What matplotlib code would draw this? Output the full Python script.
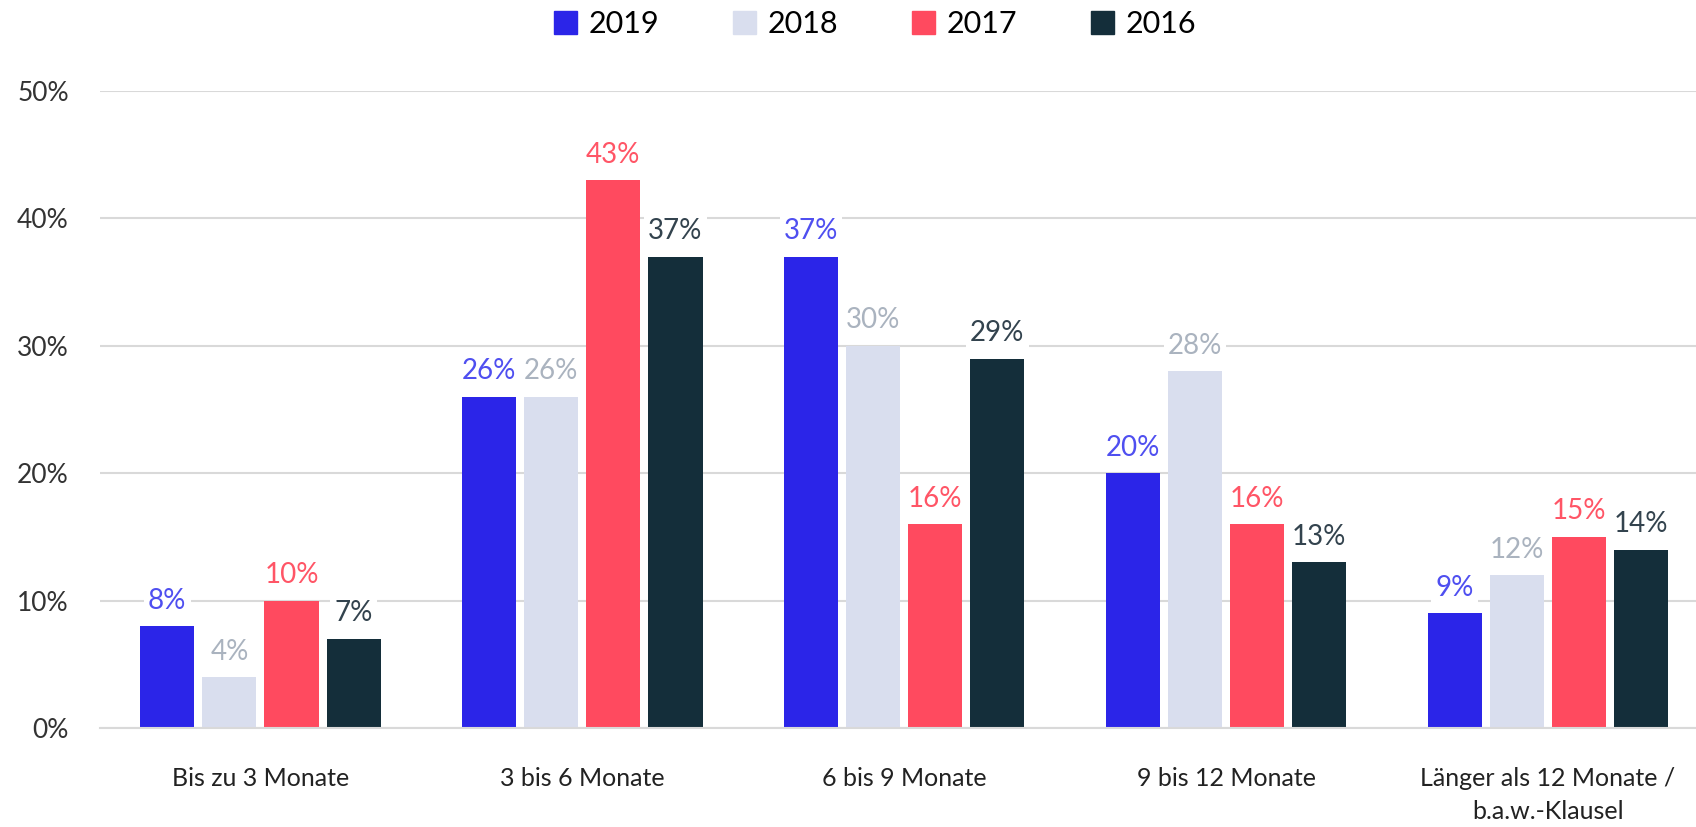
import matplotlib.pyplot as plt
import numpy as np
from matplotlib.patches import Patch

categories = ['Bis zu 3 Monate', '3 bis 6 Monate', '6 bis 9 Monate', '9 bis 12 Monate',
              'Länger als 12 Monate /\nb.a.w.-Klausel']
years = ['2019', '2018', '2017', '2016']
v2019 = [8, 26, 37, 20, 9]
v2018 = [4, 26, 30, 28, 12]
v2017 = [10, 43, 16, 16, 15]
v2016 = [7, 37, 29, 13, 14]
series = [v2019, v2018, v2017, v2016]

bar_colors = ['#2b25e8', '#d9deee', '#ff4a5f', '#142e3a']
label_colors = ['#4f4ff0', '#aab3bf', '#ff5566', '#33434e']

plt.rcParams['font.family'] = ['Lato', 'DejaVu Sans']

fig = plt.figure(figsize=(16.96, 8.27), dpi=100)
ax = fig.add_axes([99.5 / 1696, 1 - 728 / 827, 1 - 99.5 / 1696, (728 - 91) / 827])

x = np.arange(len(categories))
width = 0.168
step = 0.193
offsets = [-1.5 * step, -0.5 * step, 0.5 * step, 1.5 * step]

for i, vals in enumerate(series):
    bars = ax.bar(x + offsets[i], vals, width, color=bar_colors[i], zorder=2)
    for b, v in zip(bars, vals):
        ax.annotate(f'{v}%', (b.get_x() + b.get_width() / 2, v), xytext=(0, 9),
                    textcoords='offset points', ha='center', va='bottom',
                    fontsize=20, color=label_colors[i], zorder=3,
                    bbox=dict(boxstyle='square,pad=0.15', fc='white', ec='none'))

ax.set_ylim(0, 50)
ax.set_xlim(-0.5, 4.46)
ax.set_yticks(range(0, 51, 10))
ax.set_yticklabels([f'{t}%' for t in range(0, 51, 10)], fontsize=19, color='#333333')
ax.set_xticks(x)
ax.set_xticklabels(categories, fontsize=18, color='#222222', linespacing=1.55)
ax.tick_params(axis='both', length=0)
ax.tick_params(axis='y', pad=22)
ax.tick_params(axis='x', pad=28)
ax.grid(axis='y', color='#d9d9d9', linewidth=1.5, zorder=0)
for s in ['top', 'right', 'left']:
    ax.spines[s].set_visible(False)
ax.spines['bottom'].set_color('#d9d9d9')
ax.spines['bottom'].set_linewidth(1.5)

handles = [Patch(color=c, label=y) for c, y in zip(bar_colors, years)]
fig.legend(handles=handles, loc='center', bbox_to_anchor=(0.516, 1 - 24 / 827), ncol=4,
           frameon=False, handlelength=0.75, handleheight=0.75,
           handletextpad=0.4, columnspacing=2.4, prop={'size': 22})

fig.savefig('out.png', dpi=100)
